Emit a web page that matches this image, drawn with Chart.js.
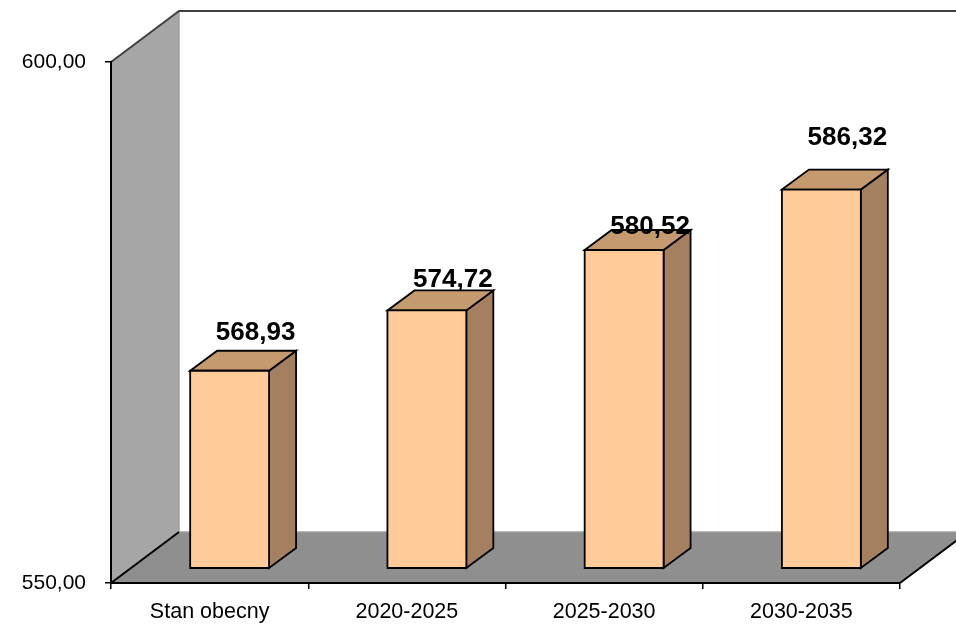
<!DOCTYPE html>
<html>
<head>
<meta charset="utf-8">
<script src="https://cdn.jsdelivr.net/npm/chart.js@4/dist/chart.umd.min.js"></script>
<style>
html,body{margin:0;padding:0;background:#fff;}
#c{display:block;}
</style>
</head>
<body>
<canvas id="c" width="956" height="630"></canvas>
<script>
// ---- data ----
const categories = ['Stan obecny', '2020-2025', '2025-2030', '2030-2035'];
const values = [568.93, 574.72, 580.52, 586.32];
const yTicks = [550, 600];

// ---- style constants ----
const FONT = '"Liberation Sans", Arial, sans-serif';
const WALL_DX = 68, WALL_DY = 51;      // depth of the 3D box
const BAR_SHIFT_X = 20, BAR_SHIFT_Y = 15; // bars sit inside depth
const BAR_DX = 27, BAR_DY = 20;          // bar depth
const labelLift = [38, 31, 23, 52];      // label centre above bar front top
const labelShiftX = 26;

const fmt = v => v.toFixed(2).replace('.', ',');

const box3d = {
  id: 'box3d',
  beforeDraw(chart) {
    const ctx = chart.ctx, a = chart.chartArea;
    const L = a.left, R = a.right, T = a.top, B = a.bottom;
    ctx.save();
    // back wall
    ctx.fillStyle = '#ffffff';
    ctx.fillRect(L + WALL_DX, T - WALL_DY, R - L + 10, B - T);
    // left wall
    ctx.beginPath();
    ctx.moveTo(L, T); ctx.lineTo(L + WALL_DX, T - WALL_DY);
    ctx.lineTo(L + WALL_DX, B - WALL_DY); ctx.lineTo(L, B); ctx.closePath();
    ctx.fillStyle = '#a6a6a6'; ctx.fill();
    // floor
    ctx.beginPath();
    ctx.moveTo(L, B); ctx.lineTo(R, B);
    ctx.lineTo(R + WALL_DX, B - WALL_DY); ctx.lineTo(L + WALL_DX, B - WALL_DY); ctx.closePath();
    ctx.fillStyle = '#8f8f8f'; ctx.fill();
    // back wall edges
    ctx.strokeStyle = '#a0a0a0'; ctx.lineWidth = 1.5;
    ctx.beginPath();
    ctx.moveTo(L + WALL_DX, T - WALL_DY); ctx.lineTo(L + WALL_DX, B - WALL_DY);
    ctx.lineTo(R + WALL_DX, B - WALL_DY);
    ctx.stroke();
    // top edge
    ctx.strokeStyle = '#404040'; ctx.lineWidth = 2;
    ctx.beginPath();
    ctx.moveTo(L, T); ctx.lineTo(L + WALL_DX, T - WALL_DY); ctx.lineTo(R + WALL_DX + 10, T - WALL_DY);
    ctx.stroke();
    // dark diagonals
    ctx.strokeStyle = '#000'; ctx.lineWidth = 2;
    ctx.beginPath();
    ctx.moveTo(L, B); ctx.lineTo(L + WALL_DX, B - WALL_DY);
    ctx.moveTo(R, B); ctx.lineTo(R + WALL_DX, B - WALL_DY);
    ctx.stroke();
    ctx.restore();
  },
  afterDatasetsDraw(chart) {
    const ctx = chart.ctx;
    const meta = chart.getDatasetMeta(0);
    const basePx = chart.scales.y.getPixelForValue(yTicks[0]);
    ctx.save();
    ctx.lineJoin = 'miter';
    meta.data.forEach((el, i) => {
      const p = el.getProps(['x', 'y', 'width'], true);
      const cx = p.x + BAR_SHIFT_X, w = p.width / 2;
      const top = p.y - BAR_SHIFT_Y, bot = basePx - BAR_SHIFT_Y;
      const l = cx - w, r = cx + w;
      ctx.strokeStyle = '#000'; ctx.lineWidth = 1.8;
      // side face
      ctx.beginPath();
      ctx.moveTo(r, top); ctx.lineTo(r + BAR_DX, top - BAR_DY);
      ctx.lineTo(r + BAR_DX, bot - BAR_DY); ctx.lineTo(r, bot); ctx.closePath();
      ctx.fillStyle = '#a58060'; ctx.fill(); ctx.stroke();
      // top face
      ctx.beginPath();
      ctx.moveTo(l, top); ctx.lineTo(l + BAR_DX, top - BAR_DY);
      ctx.lineTo(r + BAR_DX, top - BAR_DY); ctx.lineTo(r, top); ctx.closePath();
      ctx.fillStyle = '#c49a6e'; ctx.fill(); ctx.stroke();
      // front face
      ctx.beginPath();
      ctx.rect(l, top, r - l, bot - top);
      ctx.fillStyle = '#ffcc99'; ctx.fill(); ctx.stroke();
    });
    // value labels
    ctx.fillStyle = '#000';
    ctx.font = 'bold 26px ' + FONT;
    ctx.textAlign = 'center'; ctx.textBaseline = 'middle';
    meta.data.forEach((el, i) => {
      const p = el.getProps(['x', 'y'], true);
      ctx.fillText(fmt(values[i]), p.x + BAR_SHIFT_X + labelShiftX, p.y - BAR_SHIFT_Y - labelLift[i]);
    });
    ctx.restore();
  }
};

new Chart(document.getElementById('c'), {
  type: 'bar',
  data: {
    labels: categories,
    datasets: [{
      data: values,
      base: yTicks[0],
      backgroundColor: 'rgba(0,0,0,0)',
      borderWidth: 0,
      barPercentage: 0.4,
      categoryPercentage: 1.0
    }]
  },
  options: {
    responsive: false,
    devicePixelRatio: 1,
    animation: false,
    layout: { padding: { top: 62, right: 56, left: 0, bottom: 0 } },
    plugins: { legend: { display: false }, tooltip: { enabled: false } },
    scales: {
      y: {
        min: yTicks[0], max: yTicks[yTicks.length - 1],
        afterFit(s) { s.width = 111; },
        afterBuildTicks(s) { s.ticks = yTicks.map(v => ({ value: v })); },
        ticks: { color: '#000', font: { family: FONT, size: 21 }, padding: 19, callback: v => fmt(v) },
        grid: { drawOnChartArea: false, drawTicks: true, tickLength: 6, color: '#000', lineWidth: 1.5 },
        border: { display: true, color: '#000', width: 2 }
      },
      x: {
        afterFit(s) { s.height = 47; },
        ticks: { color: '#000', font: { family: FONT, size: 21.5 }, padding: 10 },
        grid: { offset: true, drawOnChartArea: false, drawTicks: true, tickLength: 6, color: '#000', lineWidth: 1.5 },
        border: { display: true, color: '#000', width: 2 }
      }
    }
  },
  plugins: [box3d]
});
</script>
</body>
</html>
